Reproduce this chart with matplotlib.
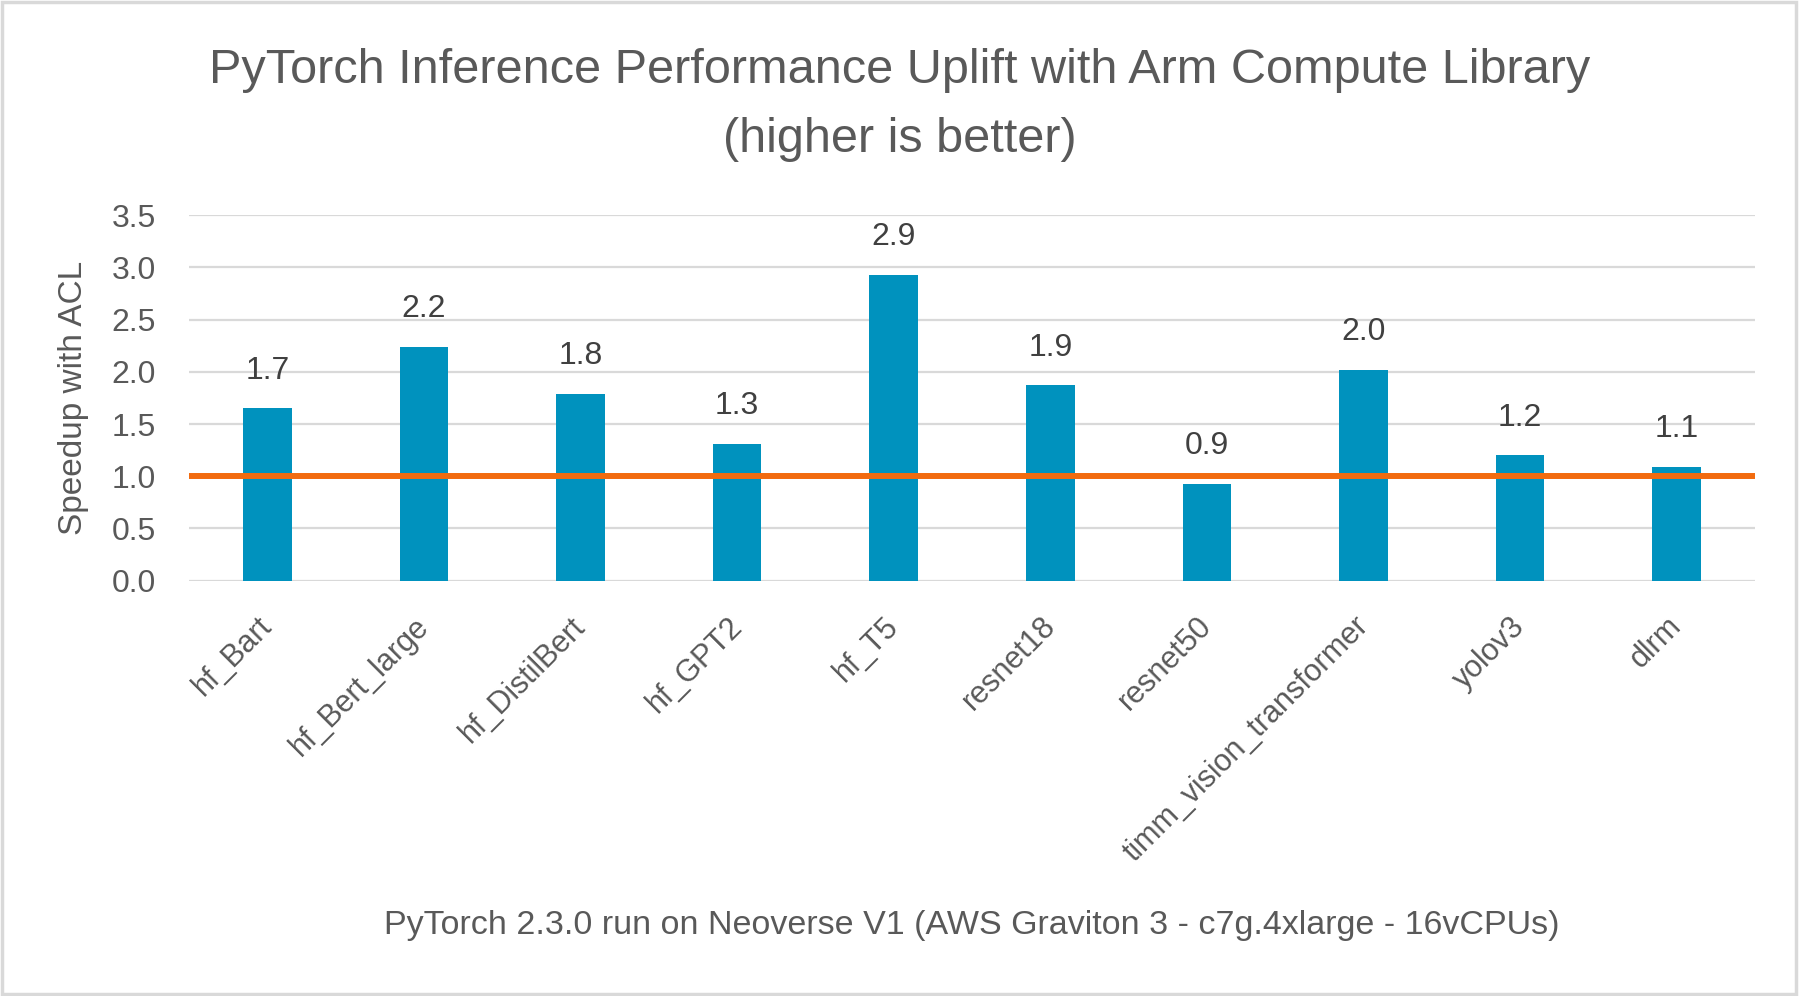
import matplotlib
matplotlib.use("Agg")
import matplotlib.pyplot as plt
import matplotlib.transforms as mtransforms
from matplotlib.patches import Rectangle

plt.rcParams["font.family"] = ["Liberation Sans", "DejaVu Sans"]

# data
models = ["hf_Bart", "hf_Bert_large", "hf_DistilBert", "hf_GPT2", "hf_T5",
          "resnet18", "resnet50", "timm_vision_transformer", "yolov3", "dlrm"]
speedup = [1.65, 2.24, 1.79, 1.31, 2.93, 1.87, 0.93, 2.02, 1.20, 1.09]
speedup_labels = ["1.7", "2.2", "1.8", "1.3", "2.9", "1.9", "0.9", "2.0", "1.2", "1.1"]
yticks = [0.0, 0.5, 1.0, 1.5, 2.0, 2.5, 3.0, 3.5]
baseline = 1.0

BAR_COLOR = "#0092BE"
LINE_COLOR = "#F26B0F"
GRID_COLOR = "#D9D9D9"
TEXT_COLOR = "#595959"

fig = plt.figure(figsize=(18, 9.96), dpi=100)
ax = fig.add_axes([0.105, 0.417, 0.870, 0.367])

x = list(range(len(models)))
ax.bar(x, speedup, width=0.31, color=BAR_COLOR, zorder=2)
ax.axhline(baseline, color=LINE_COLOR, linewidth=4.3, zorder=3)

for xi, v, lab in zip(x, speedup, speedup_labels):
    ax.annotate(lab, (xi, v), xytext=(0, 27), textcoords="offset points",
                ha="center", va="center", fontsize=23, color="#404040")

ax.set_xlim(-0.5, len(models) - 0.5)
ax.set_ylim(0, 3.5)
ax.set_yticks(yticks)
ax.set_yticklabels([f"{t:.1f}" for t in yticks])
ax.yaxis.grid(True, color=GRID_COLOR, linewidth=1.6, zorder=0)
ax.set_axisbelow(True)
for s in ax.spines.values():
    s.set_visible(False)

ax.tick_params(axis="y", length=0, pad=24, labelsize=23, labelcolor=TEXT_COLOR)
ax.tick_params(axis="x", length=0, pad=22, labelsize=22, labelcolor=TEXT_COLOR)
ax.set_xticks(x)
ax.set_xticklabels(models, rotation=45, ha="right", va="top")
shift = mtransforms.ScaledTranslation(8 / 72, 0, fig.dpi_scale_trans)
for lbl in ax.get_xticklabels():
    lbl.set_transform(lbl.get_transform() + shift)

ax.set_ylabel("Speedup with ACL", fontsize=24, color=TEXT_COLOR)
ax.yaxis.set_label_coords(-0.064, 0.5)
ax.set_xlabel("PyTorch 2.3.0 run on Neoverse V1 (AWS Graviton 3 - c7g.4xlarge - 16vCPUs)",
              fontsize=24.5, color=TEXT_COLOR)
ax.xaxis.set_label_coords(0.5, -0.9)

fig.text(0.5, 1 - 83 / 996, "PyTorch Inference Performance Uplift with Arm Compute Library",
         ha="center", va="baseline", fontsize=35, color=TEXT_COLOR)
fig.text(0.5, 1 - 152 / 996, "(higher is better)",
         ha="center", va="baseline", fontsize=35, color=TEXT_COLOR)

# light frame around the whole chart
fig.patches.append(Rectangle((0.001, 0.002), 0.997, 0.996, transform=fig.transFigure,
                             fill=False, edgecolor=GRID_COLOR, linewidth=2.5))

fig.savefig("out.png", dpi=100, facecolor="white")
